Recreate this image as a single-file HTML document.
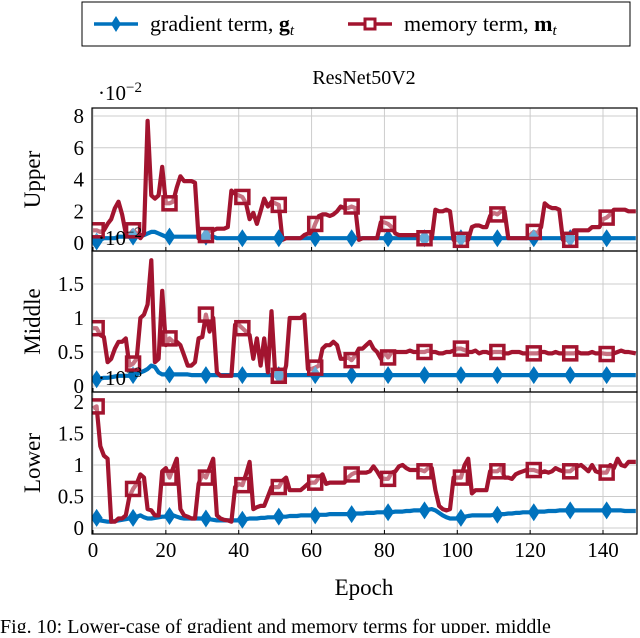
<!DOCTYPE html>
<html><head><meta charset="utf-8"><style>
body{margin:0;background:#fff;width:640px;height:633px;overflow:hidden}
svg{font-family:"Liberation Serif",serif}
</style></head><body>
<svg id="c" width="640" height="633" viewBox="0 0 640 633">
<g>
<rect x="82" y="2" width="548" height="44" fill="#fff" stroke="#000" stroke-width="1"/>
<line x1="94" y1="24" x2="138" y2="24" stroke="#0072BD" stroke-width="3.5"/>
<path d="M116 16 L121 24 L116 32 L111 24Z" fill="#0072BD"/>
<text x="150" y="31" font-size="22">gradient term, <tspan font-weight="bold">g</tspan><tspan font-style="italic" font-size="15" dy="4">t</tspan></text>
<line x1="348" y1="24" x2="392" y2="24" stroke="#A2142F" stroke-width="3.5"/>
<rect x="365" y="19" width="10" height="10" fill="#fff" stroke="#A2142F" stroke-width="3"/>
<text x="404" y="31" font-size="22">memory term, <tspan font-weight="bold">m</tspan><tspan font-style="italic" font-size="15" dy="4">t</tspan></text>
</g>
<text x="364" y="84" font-size="20" text-anchor="middle">ResNet50V2</text>
<text x="364" y="595" font-size="23" text-anchor="middle">Epoch</text>
<text x="0" y="633" font-size="20">Fig. 10: Lower-case of gradient and memory terms for upper, middle</text>
</svg>
<script>
const epochsMax = 149;
const upperRed = [0.8,0.8,0.7,0.8,1.2,1.5,2.2,2.6,1.8,0.6,
0.5,0.8,0.6,0.3,0.6,7.7,3.0,2.8,3.0,4.8,
2.5,2.5,2.6,3.5,4.2,3.9,3.9,3.9,3.8,0.3,
0.3,0.5,0.8,0.8,0.9,0.9,0.9,1.0,3.3,3.1,
3.0,2.9,2.5,1.5,1.9,1.2,2.0,2.8,2.3,2.6,
2.5,2.4,0.2,0.3,0.3,0.3,0.3,0.3,0.5,0.6,
0.6,1.2,1.7,1.8,1.8,1.7,1.8,2.0,2.3,2.2,
2.2,2.3,2.2,0.2,0.3,0.3,0.3,0.3,0.3,1.3,
1.3,1.2,1.0,0.6,0.5,0.5,0.5,0.5,0.5,0.5,
0.3,0.3,0.3,0.3,2.1,2.0,2.0,2.1,2.0,0.2,
0.2,0.2,0.2,0.2,1.0,1.1,1.1,1.0,1.0,1.7,
1.9,1.8,2.0,2.0,0.3,0.3,0.3,0.3,0.3,0.3,
0.5,0.7,0.6,1.0,2.5,2.3,2.2,2.2,2.1,0.2,
0.2,0.2,0.8,0.8,0.8,0.8,0.8,1.0,1.0,1.0,
1.5,1.6,1.8,2.1,2.1,2.1,2.1,2.0,2.0,2.0];
const upperBlue = [0.0,0.1,0.2,0.3,0.3,0.3,0.3,0.4,0.4,0.4,
0.4,0.4,0.4,0.5,0.5,0.6,0.7,0.7,0.6,0.5,
0.4,0.4,0.4,0.4,0.4,0.4,0.4,0.4,0.4,0.4,
0.4,0.4,0.4,0.4,0.3,0.3,0.3,0.3,0.3,0.3,
0.3,0.3,0.3,0.3,0.3,0.3,0.3,0.3,0.3,0.3,
0.3,0.3,0.3,0.3,0.3,0.3,0.3,0.3,0.3,0.3,
0.3,0.3,0.3,0.3,0.3,0.3,0.3,0.3,0.3,0.3,
0.3,0.3,0.3,0.3,0.3,0.3,0.3,0.3,0.3,0.3,
0.3,0.3,0.3,0.3,0.3,0.3,0.3,0.3,0.3,0.3,
0.3,0.3,0.3,0.3,0.3,0.3,0.3,0.3,0.3,0.3,
0.3,0.3,0.3,0.3,0.3,0.3,0.3,0.3,0.3,0.3,
0.3,0.3,0.3,0.3,0.3,0.3,0.3,0.3,0.3,0.3,
0.3,0.3,0.3,0.3,0.3,0.3,0.3,0.3,0.3,0.3,
0.3,0.3,0.3,0.3,0.3,0.3,0.3,0.3,0.3,0.3,
0.3,0.3,0.3,0.3,0.3,0.3,0.3,0.3,0.3,0.3];
const middleRed = [0.85,0.85,0.75,0.72,0.35,0.4,0.55,0.65,0.65,0.7,
0.3,0.33,0.4,1.0,1.05,1.2,1.85,0.35,0.4,1.4,
0.6,0.7,0.65,0.65,0.6,0.45,0.3,0.3,0.35,0.7,
0.72,1.05,0.8,1.0,0.2,0.15,0.15,0.15,0.15,0.9,
0.9,0.85,0.8,0.75,0.4,0.7,0.3,0.7,0.2,1.1,
0.2,0.15,0.1,0.3,1.0,1.0,1.0,1.0,1.05,0.25,
0.25,0.27,0.3,0.55,0.6,0.6,0.65,0.6,0.4,0.4,
0.42,0.38,0.45,0.55,0.55,0.6,0.65,0.55,0.5,0.4,
0.5,0.42,0.5,0.5,0.5,0.5,0.5,0.52,0.5,0.5,
0.5,0.5,0.52,0.5,0.5,0.48,0.48,0.5,0.5,0.52,
0.55,0.55,0.53,0.5,0.5,0.52,0.48,0.5,0.5,0.48,
0.5,0.5,0.5,0.48,0.48,0.5,0.5,0.5,0.48,0.48,
0.48,0.48,0.48,0.5,0.5,0.48,0.48,0.5,0.48,0.48,
0.48,0.48,0.48,0.5,0.48,0.48,0.48,0.5,0.48,0.48,
0.48,0.47,0.47,0.48,0.5,0.52,0.5,0.5,0.49,0.48];
const middleBlue = [0.1,0.1,0.11,0.12,0.12,0.13,0.14,0.15,0.15,0.15,
0.15,0.16,0.18,0.2,0.22,0.25,0.3,0.28,0.2,0.17,
0.17,0.17,0.17,0.17,0.17,0.17,0.17,0.16,0.16,0.16,
0.16,0.16,0.16,0.16,0.16,0.16,0.16,0.16,0.16,0.16,
0.16,0.16,0.16,0.16,0.16,0.16,0.16,0.16,0.16,0.16,
0.16,0.16,0.16,0.16,0.16,0.16,0.16,0.16,0.16,0.16,
0.16,0.16,0.16,0.16,0.16,0.16,0.16,0.16,0.16,0.16,
0.16,0.16,0.16,0.16,0.16,0.16,0.16,0.16,0.16,0.16,
0.16,0.16,0.16,0.16,0.16,0.16,0.16,0.16,0.16,0.16,
0.16,0.16,0.16,0.16,0.16,0.16,0.16,0.16,0.16,0.16,
0.16,0.16,0.16,0.16,0.16,0.16,0.16,0.16,0.16,0.16,
0.16,0.16,0.16,0.16,0.16,0.16,0.16,0.16,0.16,0.16,
0.16,0.16,0.16,0.16,0.16,0.16,0.16,0.16,0.16,0.16,
0.16,0.16,0.16,0.16,0.16,0.16,0.16,0.16,0.16,0.16,
0.16,0.16,0.16,0.16,0.16,0.16,0.16,0.16,0.16,0.16];
const lowerRed = [1.9,1.93,1.3,1.15,1.1,0.1,0.1,0.15,0.15,0.2,
0.5,0.62,0.7,0.85,0.8,0.3,0.28,0.2,0.2,0.9,
0.95,0.8,0.95,1.1,0.3,0.2,0.18,0.15,0.15,0.7,
0.85,0.8,0.95,1.1,0.2,0.15,0.13,0.12,0.1,0.65,
0.7,0.68,0.85,1.05,0.3,0.33,0.35,0.35,0.5,0.65,
0.65,0.65,0.75,0.8,0.6,0.6,0.6,0.6,0.65,0.7,
0.72,0.72,0.8,0.85,0.7,0.72,0.72,0.72,0.72,0.72,
0.8,0.85,0.88,0.88,0.88,0.88,0.9,0.98,0.9,0.8,
0.78,0.78,0.88,0.9,0.98,1.0,0.95,0.92,0.92,0.92,
0.92,0.9,0.95,0.95,0.6,0.35,0.3,0.28,0.3,0.8,
0.8,0.8,1.0,1.1,0.55,0.6,0.6,0.6,0.6,0.9,
0.9,0.9,0.95,0.8,0.8,0.78,0.85,0.88,0.9,0.92,
0.92,0.92,0.9,0.88,0.9,0.88,0.9,0.95,0.92,0.9,
0.9,0.9,0.95,0.98,1.0,0.95,0.9,1.0,0.9,0.88,
0.88,0.88,1.0,0.95,1.1,1.0,0.98,1.05,1.05,1.05];
const lowerBlue = [0.2,0.16,0.12,0.11,0.1,0.1,0.11,0.12,0.13,0.14,
0.15,0.16,0.18,0.2,0.17,0.15,0.15,0.16,0.17,0.18,
0.18,0.19,0.2,0.18,0.16,0.15,0.15,0.15,0.15,0.15,
0.15,0.15,0.14,0.13,0.12,0.12,0.12,0.12,0.12,0.12,
0.12,0.13,0.14,0.15,0.15,0.15,0.16,0.16,0.17,0.17,
0.17,0.18,0.18,0.18,0.19,0.19,0.19,0.2,0.2,0.2,
0.2,0.2,0.21,0.21,0.21,0.22,0.22,0.22,0.22,0.22,
0.22,0.22,0.23,0.23,0.23,0.24,0.24,0.24,0.25,0.25,
0.25,0.25,0.25,0.26,0.26,0.26,0.27,0.27,0.28,0.28,
0.28,0.28,0.29,0.3,0.28,0.24,0.2,0.17,0.15,0.15,
0.15,0.16,0.18,0.19,0.2,0.2,0.2,0.2,0.2,0.2,
0.21,0.21,0.22,0.22,0.23,0.23,0.24,0.24,0.25,0.25,
0.25,0.25,0.26,0.26,0.26,0.27,0.27,0.27,0.28,0.28,
0.28,0.28,0.28,0.28,0.28,0.28,0.28,0.28,0.28,0.28,
0.28,0.28,0.28,0.28,0.28,0.28,0.27,0.27,0.27,0.27];
const xTicks = [0,20,40,60,80,100,120,140];
const upperTicks = [0,2,4,6,8];
const upperTickLabels = ["0","2","4","6","8"];
const middleTicks = [0,0.5,1,1.5];
const middleTickLabels = ["0","0.5","1","1.5"];
const lowerTicks = [0,0.5,1,1.5,2];
const lowerTickLabels = ["0","0.5","1","1.5","2"];

const NS="http://www.w3.org/2000/svg";
const svg=document.getElementById('c');
const X0=92, X1=637;
function xs(e){return 93+e*(603-93)/140;}
function mk(tag,attrs,parent){const el=document.createElementNS(NS,tag);for(const k in attrs)el.setAttribute(k,attrs[k]);(parent||svg).appendChild(el);return el;}

const panels=[
 {name:'upper',top:108,bottom:251,y:v=>243-v*(243-116)/8,ticks:upperTicks,labels:upperTickLabels,red:upperRed,blue:upperBlue,title:'Upper',exp:'−2',expY:100},
 {name:'middle',top:251,bottom:392,y:v=>386-v*(386-284)/1.5,ticks:middleTicks,labels:middleTickLabels,red:middleRed,blue:middleBlue,title:'Middle',exp:'−2',expY:245},
 {name:'lower',top:392,bottom:534,y:v=>528-v*(528-402)/2,ticks:lowerTicks,labels:lowerTickLabels,red:lowerRed,blue:lowerBlue,title:'Lower',exp:'−3',expY:385}
];
panels.forEach(p=>{
 const g=mk('g',{});
 
 
 const clipId='clip-'+p.name;
 const cp=mk('clipPath',{id:clipId},g);
 mk('rect',{x:X0,y:p.top,width:X1-X0,height:p.bottom-p.top},cp);
 xTicks.forEach(t=>{
  const l=mk('line',{x1:xs(t),x2:xs(t),y1:p.top,y2:p.bottom,stroke:'#ccc','stroke-width':1},g);
  
  
  mk('line',{x1:xs(t),x2:xs(t),y1:p.bottom,y2:p.bottom-4,stroke:'#000','stroke-width':1},g);
 });
 p.ticks.forEach((t,i)=>{
  const y=p.y(t);
  const l=mk('line',{x1:X0,x2:X1,y1:y,y2:y,stroke:'#ccc','stroke-width':1},g);
  
  
  const tx=mk('text',{x:84,y:y+7,'font-size':21,'text-anchor':'end'},g);
  tx.textContent=p.labels[i];
  
  
 });
 const d=pts=>pts.map((v,i)=>(i?'L':'M')+xs(i).toFixed(1)+' '+p.y(v).toFixed(1)).join(' ');
 const pg=mk('g',{'clip-path':'url(#'+clipId+')'},g);
 const bl=mk('path',{d:d(p.blue),fill:'none',stroke:'#0072BD','stroke-width':4.2,'stroke-linejoin':'round'},pg);
 
 
 const rl=mk('path',{d:d(p.red),fill:'none',stroke:'#A2142F','stroke-width':4.2,'stroke-linejoin':'round'},pg);
 
 
 for(let i=1;i<p.red.length;i+=10){
  const x=xs(i),yb=p.y(p.blue[i]),yr=p.y(p.red[i]);
  const dm=mk('path',{d:`M${x} ${yb-9} L${x+6} ${yb} L${x} ${yb+9} L${x-6} ${yb}Z`,fill:'#0072BD'},pg);
  
  
  const sq=mk('rect',{x:x-6.5,y:yr-6.5,width:13,height:13,fill:'#fff','fill-opacity':0.4,stroke:'#A2142F','stroke-width':3.5},pg);
  
  
 }
 mk('rect',{x:X0,y:p.top,width:X1-X0,height:p.bottom-p.top,fill:'none',stroke:'#000','stroke-width':1.2},g);
 const yt=mk('text',{x:0,y:0,'font-size':23,'text-anchor':'middle',transform:`translate(40 ${(p.top+p.bottom)/2}) rotate(-90)`},g);
 yt.textContent=p.title;
 
 
 const ex=mk('text',{x:98,y:p.expY,'font-size':21},g);
 ex.innerHTML='·10<tspan font-size="15" dy="-8">'+p.exp+'</tspan>';
 
 
});
xTicks.forEach(t=>{
 const tx=mk('text',{x:xs(t),y:557,'font-size':21,'text-anchor':'middle'});
 tx.textContent=t;
 
 
});
</script>
</body></html>
